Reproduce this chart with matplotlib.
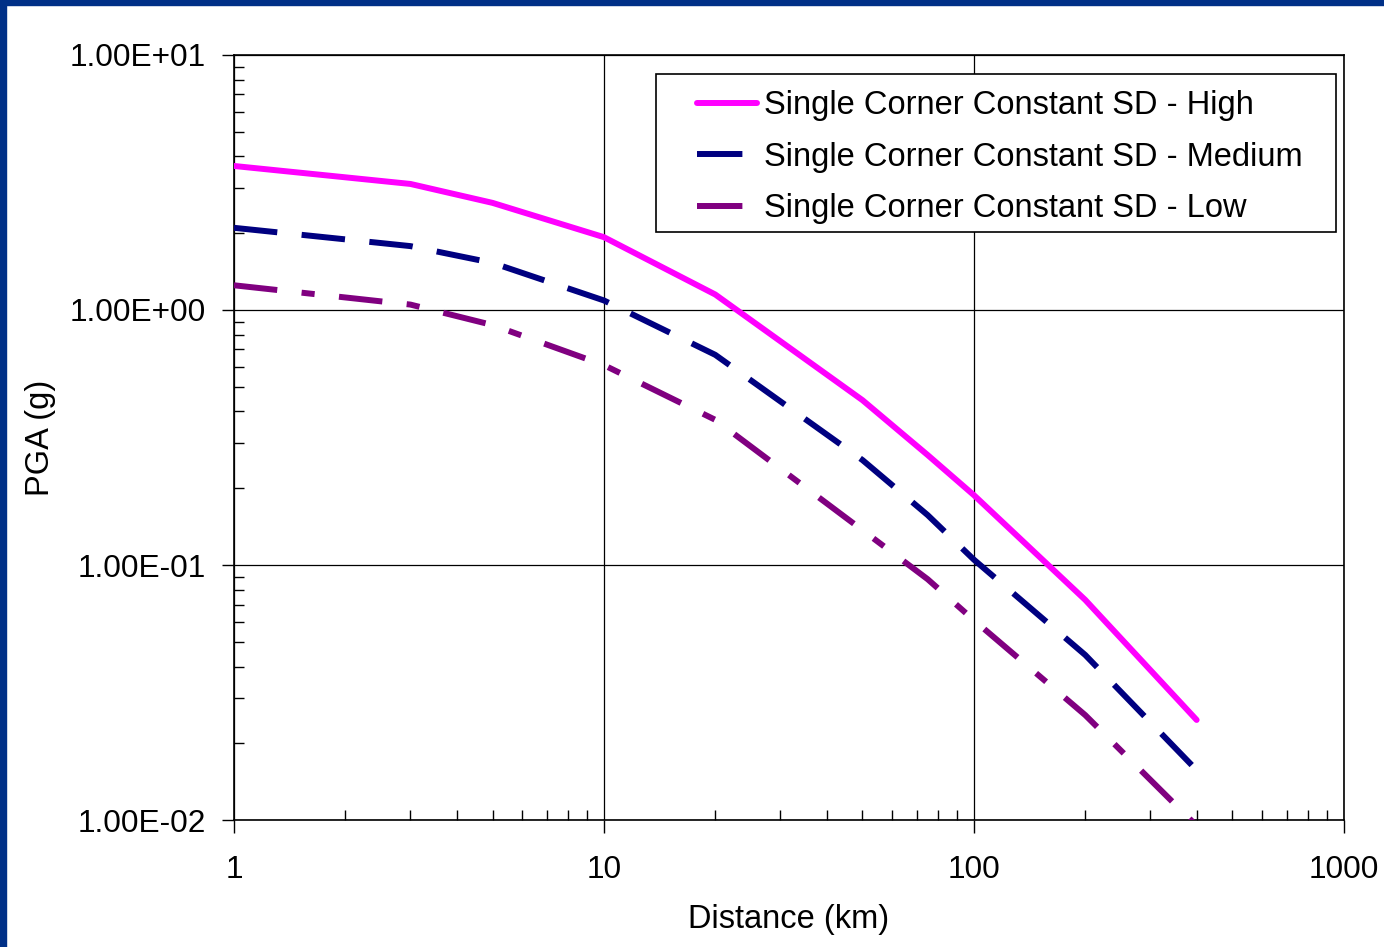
import matplotlib.pyplot as plt
from matplotlib.lines import Line2D
from matplotlib.patches import Rectangle
from matplotlib.ticker import FuncFormatter, LogLocator, NullFormatter

plt.rcParams['font.family'] = ['Liberation Sans', 'DejaVu Sans']

# ================= DATA =================
distance = [1, 3, 5, 10, 20, 50, 75, 100, 200, 400]
pga_high = [3.67, 3.12, 2.63, 1.93, 1.15, 0.443, 0.27, 0.188, 0.073, 0.0247]
pga_medium = [2.10, 1.78, 1.53, 1.09, 0.667, 0.258, 0.157, 0.105, 0.0444, 0.0157]
pga_low = [1.25, 1.05, 0.873, 0.608, 0.371, 0.137, 0.088, 0.0608, 0.0258, 0.0095]

labels = ["Single Corner Constant SD - High",
          "Single Corner Constant SD - Medium",
          "Single Corner Constant SD - Low"]
colors = ["#FF00FF", "#000080", "#800080"]

# ================= FIGURE =================
fig = plt.figure(figsize=(13.84, 9.47), dpi=100)
ax = fig.add_axes([0.169, 0.134, 0.802, 0.808])

lw = 4.3
ax.plot(distance, pga_high, color=colors[0], lw=lw, solid_capstyle="round",
        zorder=3)
ax.plot(distance, pga_medium, color=colors[1], lw=lw, dashes=(7.3, 4.1),
        zorder=3)
ax.plot(distance, pga_low, color=colors[2], lw=lw,
        dashes=(7.3, 4.1, 2.2, 4.1), zorder=3)

ax.set_xscale("log")
ax.set_yscale("log")
ax.set_xlim(1, 1000)
ax.set_ylim(0.01, 10)

ax.xaxis.set_major_formatter(FuncFormatter(lambda v, p: f"{v:g}"))
ax.yaxis.set_major_formatter(FuncFormatter(lambda v, p: f"{v:.2E}"))
ax.xaxis.set_minor_locator(LogLocator(base=10, subs=range(2, 10)))
ax.yaxis.set_minor_locator(LogLocator(base=10, subs=range(2, 10)))
ax.xaxis.set_minor_formatter(NullFormatter())
ax.yaxis.set_minor_formatter(NullFormatter())

ax.tick_params(which="major", direction="out", length=9, width=1,
               labelsize=22.8)
ax.tick_params(axis="y", which="major", pad=11)
ax.tick_params(axis="x", which="major", pad=16)
ax.tick_params(which="minor", direction="in", length=7, width=1)
ax.grid(True, which="major", color="black", lw=0.9)
for s in ax.spines.values():
    s.set_color("black")
    s.set_linewidth(1.2)

ax.set_xlabel("Distance (km)", fontsize=23.5, labelpad=14)
ax.set_ylabel("PGA (g)", fontsize=23.5, labelpad=10)

# ================= LEGEND =================
handles = [
    Line2D([], [], color=colors[0], lw=lw, solid_capstyle="round"),
    Line2D([], [], color=colors[1], lw=lw, dashes=(7.6, 30)),
    Line2D([], [], color=colors[2], lw=lw, dashes=(7.6, 30)),
]
ax.add_patch(Rectangle((0.380, 0.769), 0.613, 0.206, transform=ax.transAxes,
                       facecolor="white", edgecolor="black", lw=1.2,
                       zorder=4))
leg = ax.legend(handles, labels, loc="upper left",
                bbox_to_anchor=(0.417, 0.954), fontsize=23.5, frameon=False,
                handlelength=1.85, handletextpad=0.2, borderpad=0,
                labelspacing=0.63, borderaxespad=0)
leg.set_zorder(5)

# ================= BORDER =================
fig.patches.append(Rectangle((0, 0), 6 / 1384, 1, transform=fig.transFigure,
                             color="#003087", zorder=10))
fig.patches.append(Rectangle((0, 1 - 5 / 947), 1, 5 / 947,
                             transform=fig.transFigure, color="#003087",
                             zorder=10))

fig.savefig("out.png", dpi=100)
plt.close(fig)
